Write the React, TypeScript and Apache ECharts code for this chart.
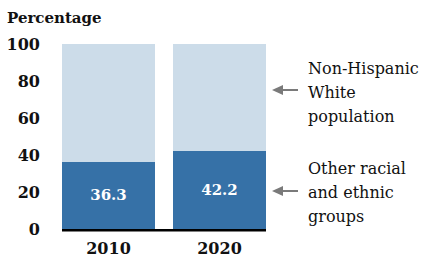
import React, { useEffect, useRef } from "react";
import * as echarts from "echarts";

const years = ["2010", "2020"];
const otherGroups = [36.3, 42.2];
const whitePop = [63.7, 57.8];
const yTicks = [0, 20, 40, 60, 80, 100];
const annotationWhite = "Non-Hispanic\nWhite\npopulation";
const annotationOther = "Other racial\nand ethnic\ngroups";
const yTitle = "Percentage";

const SERIF = "'DejaVu Serif', serif";

export default function App() {
  const ref = useRef<HTMLDivElement>(null);
  useEffect(() => {
    if (!ref.current) return;
    const chart = echarts.init(ref.current, null, { renderer: "svg" });
    const arrowColor = "#7a7a7a";
    chart.setOption({
      animation: false,
      grid: { left: 53, right: 147, top: 44, bottom: 30 },
      xAxis: {
        type: "category",
        data: years,
        axisLine: { show: false },
        axisTick: { show: false },
        axisLabel: {
          color: "#111",
          fontFamily: SERIF,
          fontWeight: "bold",
          fontSize: 16,
          margin: 11,
        },
      },
      yAxis: {
        type: "value",
        min: yTicks[0],
        max: yTicks[yTicks.length - 1],
        interval: 20,
        splitLine: { show: false },
        axisLine: { show: false },
        axisTick: { show: false },
        axisLabel: {
          color: "#111",
          fontFamily: SERIF,
          fontWeight: "bold",
          fontSize: 16,
          margin: 13,
        },
      },
      series: [
        {
          name: "Other racial and ethnic groups",
          type: "bar",
          stack: "total",
          barWidth: 93,
          data: otherGroups,
          itemStyle: { color: "#3671a7" },
          label: {
            show: true,
            position: "inside",
            color: "#ffffff",
            fontFamily: SERIF,
            fontWeight: "bold",
            fontSize: 15,
            formatter: (p: any) => p.value.toFixed(1),
          },
        },
        {
          name: "Non-Hispanic White population",
          type: "bar",
          stack: "total",
          barWidth: 93,
          data: whitePop,
          itemStyle: { color: "#ccdce9" },
        },
      ],
      graphic: [
        {
          type: "text",
          left: 7,
          top: 10,
          style: {
            text: yTitle,
            fill: "#111",
            font: `bold 15px ${SERIF}`,
          },
        },
        {
          type: "rect",
          shape: { x: 62, y: 229, width: 204, height: 2.5 },
          style: { fill: "#000" },
        },
        {
          type: "text",
          x: 308,
          y: 56,
          style: {
            text: annotationWhite,
            fill: "#111",
            font: `16px ${SERIF}`,
            lineHeight: 24,
          },
        },
        {
          type: "text",
          x: 308,
          y: 156,
          style: {
            text: annotationOther,
            fill: "#111",
            font: `16px ${SERIF}`,
            lineHeight: 24,
          },
        },
        {
          type: "line",
          shape: { x1: 280, y1: 90, x2: 298, y2: 90 },
          style: { stroke: arrowColor, lineWidth: 2 },
        },
        {
          type: "polygon",
          shape: { points: [[272, 90], [283, 85], [283, 95]] },
          style: { fill: arrowColor },
        },
        {
          type: "line",
          shape: { x1: 280, y1: 191, x2: 298, y2: 191 },
          style: { stroke: arrowColor, lineWidth: 2 },
        },
        {
          type: "polygon",
          shape: { points: [[272, 191], [283, 186], [283, 196]] },
          style: { fill: arrowColor },
        },
      ],
    });
    return () => chart.dispose();
  }, []);
  return <div ref={ref} style={{ width: 422, height: 259, position: "absolute", left: 0, top: 0 }} />;
}
